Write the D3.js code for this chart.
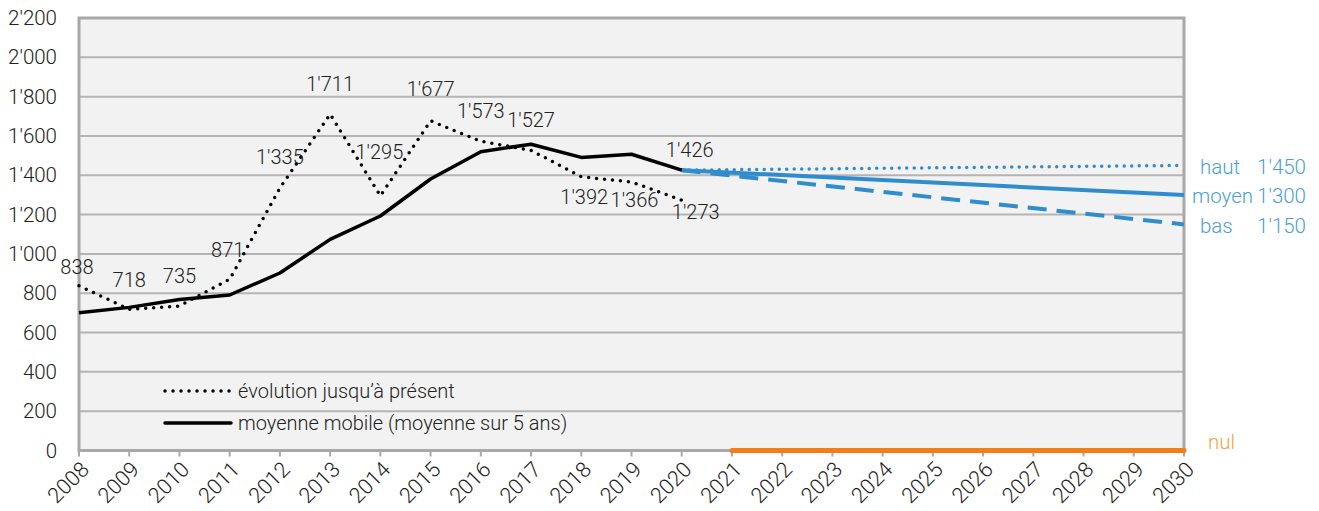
<!DOCTYPE html>
<html>
<head>
<meta charset="utf-8">
<script src="https://cdn.jsdelivr.net/npm/d3@7"></script>
<style>
  body { margin: 0; background: #fff; }
  svg { font-family: Roboto, "Noto Sans", sans-serif; font-weight: 300; }
  .tick-label { font-size: 20.5px; fill: #222; }
  .year-label { font-size: 21.5px; fill: #222; }
  .data-label { font-size: 20px; fill: #222; }
  .legend-text { font-size: 20px; fill: #222; }
  .scen-label { font-size: 20.5px; fill: #4a9fd8; }
</style>
</head>
<body>
<div id="chart"></div>
<script>
// data
const years = d3.range(2008, 2021);
const actual = [838, 718, 735, 871, 1335, 1711, 1295, 1677, 1573, 1527, 1392, 1366, 1273];
const movingAvg = [701, 728, 768, 791, 903, 1074, 1193, 1381, 1520, 1558, 1491, 1507, 1426];
const scenarioYears = [2020, 2030];
const scenHaut = [1426, 1450];
const scenMoyen = [1426, 1300];
const scenBas = [1426, 1150];
const nulYears = [2021, 2030];
const nulValues = [0, 0];
const yTicks = [0, 200, 400, 600, 800, 1000, 1200, 1400, 1600, 1800, 2000, 2200];
const xTicks = d3.range(2008, 2031);

const width = 1319, height = 511;
const margin = { top: 18, right: 135, bottom: 60.5, left: 79 };

const svg = d3.select("#chart").append("svg")
  .attr("width", width).attr("height", height);

const fmt = d3.formatLocale({ decimal: ".", thousands: "'", grouping: [3], currency: ["", ""] }).format(",");

const x = d3.scaleLinear().domain([2008, 2030]).range([margin.left, width - margin.right]);
const y = d3.scaleLinear().domain([0, 2200]).range([height - margin.bottom, margin.top]);

// plot background
svg.append("rect")
  .attr("x", x(2008)).attr("y", y(2200))
  .attr("width", x(2030) - x(2008)).attr("height", y(0) - y(2200))
  .attr("fill", "#f2f2f2");

// gridlines
svg.append("g").selectAll("line").data(yTicks.slice(1)).join("line")
  .attr("x1", x(2008)).attr("x2", x(2030))
  .attr("y1", d => y(d)).attr("y2", d => y(d))
  .attr("stroke", "#b4b4b4").attr("stroke-width", 2);

// frame
svg.append("rect")
  .attr("x", x(2008)).attr("y", y(2200))
  .attr("width", x(2030) - x(2008)).attr("height", y(0) - y(2200))
  .attr("fill", "none").attr("stroke", "#a8a8a8").attr("stroke-width", 3);

// y axis labels
svg.append("g").selectAll("text").data(yTicks).join("text")
  .attr("class", "tick-label")
  .attr("x", 57).attr("y", d => y(d))
  .attr("dy", "0.35em").attr("text-anchor", "end")
  .text(d => fmt(d));

// x axis ticks
svg.append("g").selectAll("line").data(xTicks).join("line")
  .attr("x1", d => x(d)).attr("x2", d => x(d))
  .attr("y1", y(0)).attr("y2", y(0) + 6)
  .attr("stroke", "#a8a8a8").attr("stroke-width", 2);

svg.append("g").selectAll("text").data(xTicks).join("text")
  .attr("class", "year-label")
  .attr("text-anchor", "end")
  .attr("transform", d => `translate(${x(d) + 6}, ${y(0) + 15}) rotate(-45)`)
  .attr("dy", "0.35em")
  .text(d => d);

const line = d3.line().x(d => x(d[0])).y(d => y(d[1]));

// nul scenario
svg.append("path")
  .datum(d3.zip(nulYears, nulValues))
  .attr("d", line).attr("fill", "none")
  .attr("stroke", "#f47c1a").attr("stroke-width", 5).attr("stroke-linecap", "round");

// scenarios
const blue = "#2f8ccd";
svg.append("path").datum(d3.zip(scenarioYears, scenHaut))
  .attr("d", line).attr("fill", "none").attr("stroke", blue)
  .attr("stroke-width", 3.5).attr("stroke-linecap", "round").attr("stroke-dasharray", "0 7.5");
svg.append("path").datum(d3.zip(scenarioYears, scenBas))
  .attr("d", line).attr("fill", "none").attr("stroke", blue)
  .attr("stroke-width", 4).attr("stroke-dasharray", "19 10");
svg.append("path").datum(d3.zip(scenarioYears, scenMoyen))
  .attr("d", line).attr("fill", "none").attr("stroke", blue)
  .attr("stroke-width", 4);

// moving average
svg.append("path").datum(d3.zip(years, movingAvg))
  .attr("d", line).attr("fill", "none").attr("stroke", "#000")
  .attr("stroke-width", 3.5).attr("stroke-linejoin", "round");

// actual values
svg.append("path").datum(d3.zip(years, actual))
  .attr("d", line).attr("fill", "none").attr("stroke", "#000")
  .attr("stroke-width", 3.5).attr("stroke-linecap", "round").attr("stroke-dasharray", "0 8");

// data labels (offsets in px relative to point)
const labelOffsets = [[-2, -19], [0, -29], [0, -30], [-2, -29], [0, -31], [0, -30], [-1, -44],
  [0, -32], [0, -30], [0, -30], [3, 20], [3, 18], [14, 12]];
svg.append("g").selectAll("text").data(d3.zip(years, actual)).join("text")
  .attr("class", "data-label")
  .attr("text-anchor", "middle")
  .attr("x", (d, i) => x(d[0]) + labelOffsets[i][0])
  .attr("y", (d, i) => y(d[1]) + labelOffsets[i][1])
  .attr("dy", "0.35em")
  .text(d => fmt(d[1]));

svg.append("text")
  .attr("class", "data-label")
  .attr("text-anchor", "middle")
  .attr("x", x(2020) + 8).attr("y", y(movingAvg[movingAvg.length - 1]) - 20)
  .attr("dy", "0.35em")
  .text(fmt(movingAvg[movingAvg.length - 1]));

// scenario labels
const scenNames = ["haut", "moyen", "bas"];
const scenEnds = [scenHaut[1], scenMoyen[1], scenBas[1]];
const scenNameX = [1200, 1192, 1200];
svg.append("g").selectAll("text").data(scenNames).join("text")
  .attr("class", "scen-label")
  .attr("x", (d, i) => scenNameX[i])
  .attr("y", (d, i) => y(scenEnds[i]) + 1)
  .attr("dy", "0.35em")
  .text(d => d);
svg.append("g").selectAll("text").data(scenEnds).join("text")
  .attr("class", "scen-label")
  .attr("x", 1306).attr("text-anchor", "end")
  .attr("y", d => y(d) + 1)
  .attr("dy", "0.35em")
  .text(d => fmt(d));
svg.append("text")
  .attr("class", "scen-label")
  .style("fill", "#f5a23f")
  .attr("x", 1208).attr("y", y(0) - 9).attr("dy", "0.35em")
  .text("nul");

// legend
const legend = [
  { label: "évolution jusqu’à présent", dash: "0 8", y: 391 },
  { label: "moyenne mobile (moyenne sur 5 ans)", dash: null, y: 423 }
];
const lg = svg.append("g");
lg.selectAll("line").data(legend).join("line")
  .attr("x1", 165).attr("x2", 231)
  .attr("y1", d => d.y).attr("y2", d => d.y)
  .attr("stroke", "#000").attr("stroke-width", 3.5)
  .attr("stroke-linecap", "round")
  .attr("stroke-dasharray", d => d.dash);
lg.selectAll("text").data(legend).join("text")
  .attr("class", "legend-text")
  .attr("x", 238).attr("y", d => d.y).attr("dy", "0.35em")
  .text(d => d.label);
</script>
</body>
</html>
